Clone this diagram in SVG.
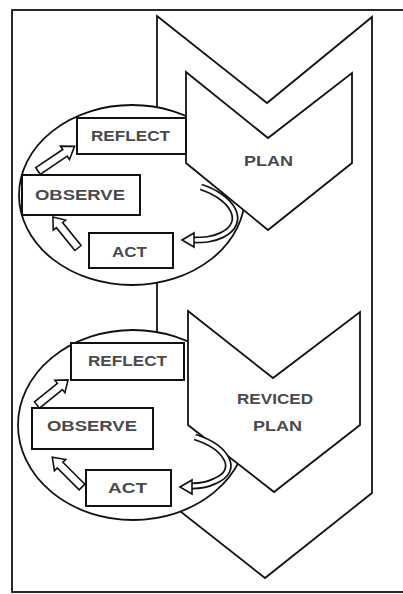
<svg xmlns="http://www.w3.org/2000/svg" width="403" height="594" viewBox="0 0 403 594">
<style>
.ln{fill:#fff;stroke:#111;stroke-width:1.8;stroke-linejoin:miter}
.bx{fill:#fff;stroke:#111;stroke-width:2}
.ar{fill:#fff;stroke:#111;stroke-width:1.6;stroke-linejoin:miter}
.t{font-family:"Liberation Sans",Arial,sans-serif;font-size:14px;font-weight:bold;fill:#4a4a4a;text-anchor:start}
.cvo{fill:none;stroke:#111;stroke-width:7}
.cvi{fill:none;stroke:#fff;stroke-width:3.6}
</style>
<defs>
<polygon id="barrow" points="0,-4 31,-4 31,-8 42,0 31,8 31,4 0,4"/>
</defs>
<rect id="frame" x="12" y="10" width="420" height="582" fill="#fff" stroke="#111" stroke-width="1.8"/>
<g id="main-chevron">
<polygon class="ln" points="157,16 267,103 372,17 372,493 265,578 157,493"/>
</g>
<g id="cycle1">
<ellipse class="ln" cx="132" cy="195" rx="113" ry="90"/>
</g>
<g id="cycle2">
<ellipse class="ln" cx="133" cy="425" rx="115" ry="95"/>
</g>
<g id="plan">
<polygon class="ln" points="186,72 268,138 352,73 352,163 268,230 186,163"/>
<text class="t" x="244" y="166" textLength="49" lengthAdjust="spacingAndGlyphs">PLAN</text>
</g>
<g id="reviced-plan">
<polygon class="ln" points="188,311 273,378 360,312 360,425 274,492 188,425"/>
<text class="t" x="237" y="404" textLength="76" lengthAdjust="spacingAndGlyphs">REVICED</text>
<text class="t" x="253" y="431" textLength="49" lengthAdjust="spacingAndGlyphs">PLAN</text>
</g>
<g id="reflect1">
<rect class="bx" x="77" y="118" width="109" height="36"/>
<text class="t" x="91" y="141" textLength="79" lengthAdjust="spacingAndGlyphs">REFLECT</text>
</g>
<g id="observe1">
<rect class="bx" x="22" y="175" width="118" height="40"/>
<text class="t" x="35" y="200" textLength="90" lengthAdjust="spacingAndGlyphs">OBSERVE</text>
</g>
<g id="act1">
<rect class="bx" x="89" y="233" width="84" height="35"/>
<text class="t" x="112" y="257" textLength="35" lengthAdjust="spacingAndGlyphs">ACT</text>
</g>
<g id="reflect2">
<rect class="bx" x="71" y="343" width="113" height="37"/>
<text class="t" x="88" y="366" textLength="79" lengthAdjust="spacingAndGlyphs">REFLECT</text>
</g>
<g id="observe2">
<rect class="bx" x="32" y="408" width="121" height="41"/>
<text class="t" x="47" y="431" textLength="90" lengthAdjust="spacingAndGlyphs">OBSERVE</text>
</g>
<g id="act2">
<rect class="bx" x="86" y="470" width="85" height="36"/>
<text class="t" x="108" y="493" textLength="39" lengthAdjust="spacingAndGlyphs">ACT</text>
</g>
<g id="connectors">
<use href="#barrow" class="ar" transform="translate(38,171) rotate(-34) scale(1.05,1)"/>
<use href="#barrow" class="ar" transform="translate(78,248) rotate(-129) scale(0.95,1)"/>
<use href="#barrow" class="ar" transform="translate(37,405) rotate(-39) scale(0.95,1)"/>
<use href="#barrow" class="ar" transform="translate(82,487) rotate(-135) scale(1,1)"/>
<path class="cvo" d="M201,187 C232,197 248,222 222,235 C212,240 203,240 193,240"/>
<path class="cvi" d="M201,187 C232,197 248,222 222,235 C212,240 203,240 193,240"/>
<polygon class="ar" points="182,240 194,233 194,247"/>
<path class="cvo" d="M195,437 C226,447 241,470 215,481 C207,485 200,486 192,486"/>
<path class="cvi" d="M195,437 C226,447 241,470 215,481 C207,485 200,486 192,486"/>
<polygon class="ar" points="180,487 192,480 192,494"/>
</g>
</svg>
